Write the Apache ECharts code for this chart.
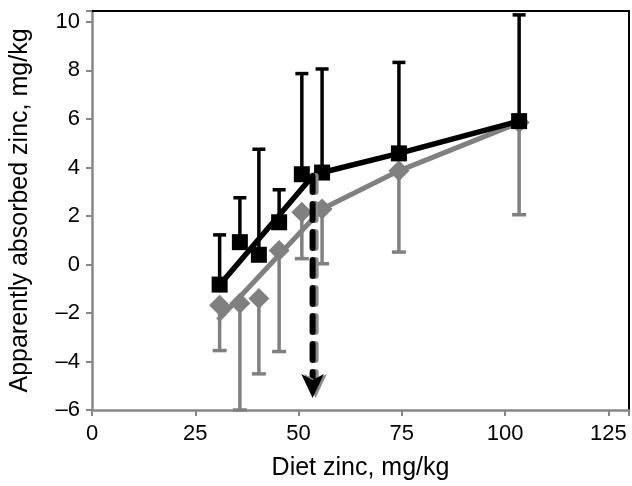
<!DOCTYPE html>
<html>
<head>
<meta charset="utf-8">
<script src="https://cdn.jsdelivr.net/npm/echarts@6/dist/echarts.min.js"></script>
<style>
html,body{margin:0;padding:0;background:#fff;}
#chart{width:632px;height:486px;}
</style>
</head>
<body>
<div id="chart"></div>
<script>
// diet zinc levels (mg/kg)
var dietZinc = [30.9, 35.8, 40.4, 45.3, 50.8, 55.7, 74.3, 103.4];

// black squares: mean and top of error bar
var blackY = [-0.83, 0.92, 0.4, 1.74, 3.72, 3.79, 4.58, 5.91];
var blackHi = [1.22, 2.75, 4.75, 3.08, 7.87, 8.06, 8.33, 10.29];

// grey diamonds: mean and bottom of error bar
var greyY = [-1.68, -1.6, -1.4, 0.58, 2.15, 2.29, 3.86, 5.85];
var greyLo = [-3.55, -6, -4.51, -3.59, 0.24, 0.03, 0.51, 2.05];

// broken-line fits
var blackFitX = [30.9, 53.4, 55.7, 74.3, 103.4];
var blackFitY = [-0.85, 3.65, 3.79, 4.58, 5.91];
var greyFitX = [30.5, 55.7, 74.3, 103.4];
var greyFitY = [-2.3, 2.29, 3.86, 5.85];

// break point arrow
var breakX = 53.4;
var breakTop = 3.65;

var xTicks = [0, 25, 50, 75, 100, 125];
var yTicks = [-6, -4, -2, 0, 2, 4, 6, 8, 10];

function pairs(xs, ys){
	var out = [];
	for (var i = 0; i < xs.length; i++) out.push([xs[i], ys[i]]);
	return out;
}
function bars(xs, ys, ends){
	var out = [];
	for (var i = 0; i < xs.length; i++) out.push([xs[i], ys[i], ends[i]]);
	return out;
}
function errorBar(color, capW){
	return function(params, api){
		var p = api.coord([api.value(0), api.value(1)]);
		var e = api.coord([api.value(0), api.value(2)]);
		var st = {stroke: color, lineWidth: 3.5};
		return {
			type: 'group',
			children: [
				{type: 'line', shape: {x1: p[0], y1: p[1], x2: e[0], y2: e[1]}, style: st},
				{type: 'line', shape: {x1: e[0] - capW / 2, y1: e[1], x2: e[0] + capW / 2, y2: e[1]}, style: st}
			]
		};
	};
}

var FONT = "'Liberation Sans', Arial, sans-serif";
var AXIS_GREY = '#878787';
var GREY = '#808080';

var chart = echarts.init(document.getElementById('chart'));

var option = {
	animation: false,
	textStyle: {fontFamily: FONT},
	grid: {left: 92, right: 2, top: 11, bottom: 74},
	xAxis: [
		{
			type: 'value',
			min: 0,
			max: 130,
			interval: 25,
			name: 'Diet zinc, mg/kg',
			nameLocation: 'middle',
			nameGap: 46,
			nameTextStyle: {fontSize: 25, color: '#000', fontFamily: FONT},
			axisLine: {onZero: false, lineStyle: {color: AXIS_GREY, width: 2.5}},
			axisTick: {show: true, length: 6, inside: false, lineStyle: {color: AXIS_GREY, width: 2}},
			axisLabel: {
				fontSize: 22, color: '#000', margin: 13, fontFamily: FONT,
				formatter: function(v){ return xTicks.indexOf(v) >= 0 ? String(v) : ''; }
			},
			splitLine: {show: false}
		},
		{
			type: 'value',
			position: 'top',
			min: 0,
			max: 130,
			axisLine: {onZero: false, lineStyle: {color: '#000', width: 2}},
			axisTick: {show: false},
			axisLabel: {show: false},
			splitLine: {show: false}
		}
	],
	yAxis: [
		{
			type: 'value',
			min: -6,
			max: 10.45,
			interval: 2,
			name: 'Apparently absorbed zinc, mg/kg',
			nameLocation: 'middle',
			nameGap: 59,
			nameTextStyle: {fontSize: 25, color: '#000', fontFamily: FONT},
			axisLine: {onZero: false, lineStyle: {color: AXIS_GREY, width: 2.5}},
			axisTick: {show: true, length: 6, inside: false, lineStyle: {color: AXIS_GREY, width: 2}},
			axisLabel: {
				fontSize: 22, color: '#000', margin: 12, fontFamily: FONT,
				formatter: function(v){
					if (yTicks.indexOf(v) < 0) return '';
					return v < 0 ? '\u2013' + (-v) : String(v);
				}
			},
			splitLine: {show: false}
		},
		{
			type: 'value',
			position: 'right',
			min: -6,
			max: 10.45,
			axisLine: {onZero: false, lineStyle: {color: '#000', width: 2}},
			axisTick: {show: false},
			axisLabel: {show: false},
			splitLine: {show: false}
		}
	],
	series: [
		// grey fitted line
		{
			type: 'line',
			data: pairs(greyFitX, greyFitY),
			symbol: 'none',
			lineStyle: {color: GREY, width: 5},
			z: 2
		},
		// grey error bars (down)
		{
			type: 'custom',
			data: bars(dietZinc, greyY, greyLo),
			renderItem: errorBar(GREY, 14),
			z: 3
		},
		// grey diamonds
		{
			type: 'scatter',
			data: pairs(dietZinc, greyY),
			symbol: 'diamond',
			symbolSize: 21,
			itemStyle: {color: GREY, opacity: 1},
			z: 4
		},
		// black fitted line
		{
			type: 'line',
			data: pairs(blackFitX, blackFitY),
			symbol: 'none',
			lineStyle: {color: '#000', width: 5.5},
			z: 5
		},
		// black error bars (up)
		{
			type: 'custom',
			data: bars(dietZinc, blackY, blackHi),
			renderItem: errorBar('#000', 13),
			z: 6
		},
		// black squares
		{
			type: 'scatter',
			data: pairs(dietZinc, blackY),
			symbol: 'rect',
			symbolSize: 16,
			itemStyle: {color: '#000', opacity: 1},
			z: 7
		},
		// dashed arrow at the break point
		{
			type: 'line',
			data: [[breakX, breakTop], [breakX, -5.3]],
			symbol: 'none',
			lineStyle: {
				color: '#000', width: 6, type: [16, 12], cap: 'round',
				shadowColor: '#8a8a8a', shadowOffsetX: 3, shadowOffsetY: 0, shadowBlur: 0
			},
			z: 8
		},
		{
			type: 'scatter',
			data: [[breakX, -6]],
			symbol: 'arrow',
			symbolRotate: 180,
			symbolSize: [17, 24],
			symbolOffset: [0, -12],
			itemStyle: {
				color: '#000', opacity: 1,
				shadowColor: '#8a8a8a', shadowOffsetX: 3, shadowOffsetY: 0, shadowBlur: 0
			},
			z: 9
		}
	]
};

chart.setOption(option);
</script>
</body>
</html>
